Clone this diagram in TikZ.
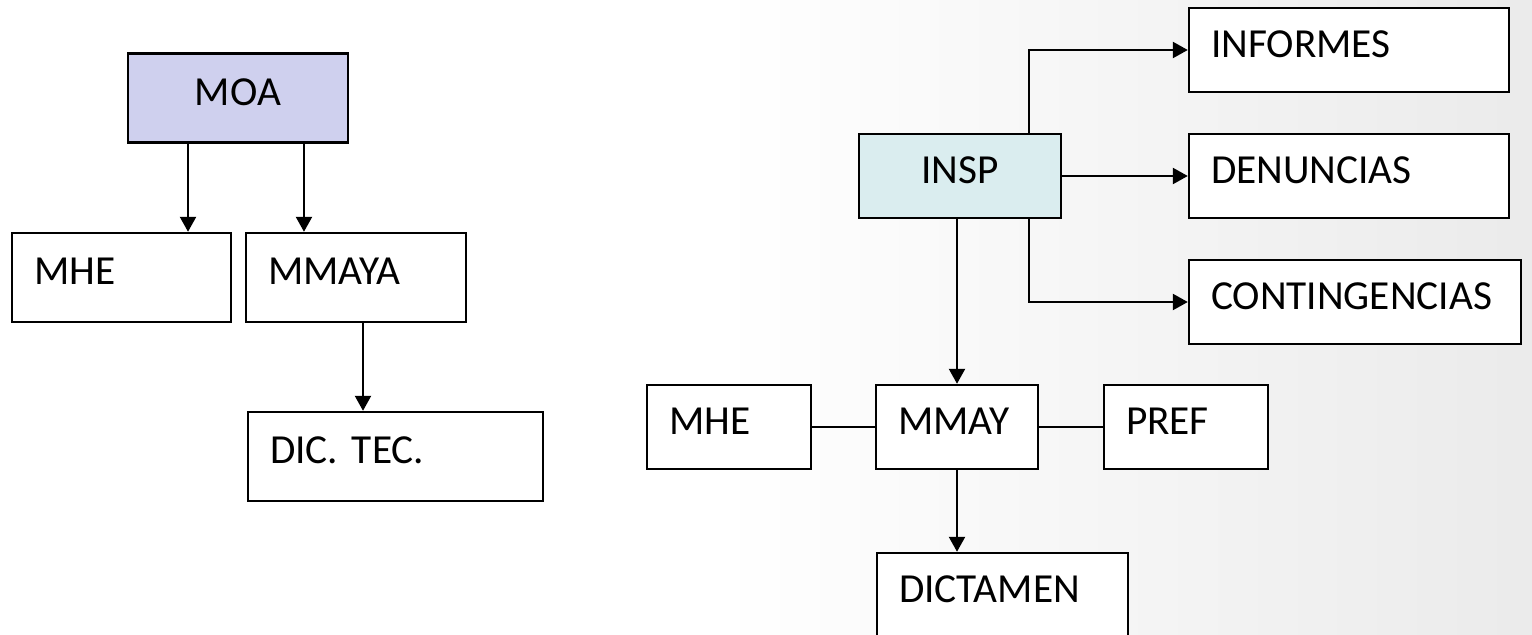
\documentclass[tikz,border=0pt]{standalone}
\usepackage{fontspec}
\setmainfont{Carlito}
\usetikzlibrary{arrows.meta}
\definecolor{moafill}{RGB}{207,208,238}
\definecolor{inspfill}{RGB}{218,237,239}
\tikzset{
box/.style={draw,line width=1.4pt,fill=white,inner xsep=0.44cm,inner ysep=0pt,text depth=0.24cm,align=left,font=\fontsize{23.5}{27}\selectfont},
tall/.style={minimum height=1.78cm},
short/.style={minimum height=1.68cm},
arr/.style={-{Triangle[length=0.3cm,width=0.32cm]},line width=1.3pt},
lnk/.style={line width=1.3pt}
}
\begin{document}
\frenchspacing
\begin{tikzpicture}[x=0.02cm,y=-0.02cm]
\useasboundingbox(0,0)rectangle(1532,635);
\shade[left color=white,right color=black!8](720,0)rectangle(1532,635);
\node[box,tall,fill=moafill,align=center,text width=3.52cm](moa)at(238,98){MOA};
\node[box,tall,text width=3.5cm](mhea)at(121.5,277.5){MHE};
\node[box,tall,text width=3.52cm](mmaya)at(356,277.5){MMAYA};
\node[box,tall,text width=5.02cm](dic)at(395.5,456.5){DIC. TEC.};
\draw[arr]([xshift=-1cm]moa.south)--([xshift=-1cm]moa.south|-mhea.north);
\draw[arr]([xshift=1.32cm]moa.south)--([xshift=1.32cm]moa.south|-mmaya.north);
\draw[arr]([xshift=0.14cm]mmaya.south)--([xshift=0.14cm]mmaya.south|-dic.north);
\node[box,short,fill=inspfill,align=center,text width=3.16cm](insp)at(960,176){INSP};
\node[box,short,text width=5.52cm](informes)at(1349,50){INFORMES};
\node[box,short,text width=5.52cm](denuncias)at(1349,176){DENUNCIAS};
\node[box,short,text width=5.76cm](conting)at(1355,302){CONTINGENCIAS};
\node[box,short,text width=2.4cm](mheb)at(729,427){MHE};
\node[box,short,text width=2.36cm](mmay)at(957,427){MMAY};
\node[box,short,text width=2.4cm](pref)at(1186,427){PREF};
\node[box,short,text width=4.14cm](dictamen)at(1002.5,595){DICTAMEN};
\draw[arr]([xshift=1.38cm]insp.north)|-(informes.west);
\draw[arr](insp.east)--(denuncias.west);
\draw[arr]([xshift=1.38cm]insp.south)|-(conting.west);
\draw[arr](insp.south-|mmay.north)--(mmay.north);
\draw[lnk](mheb.east)--(mmay.west);
\draw[lnk](mmay.east)--(pref.west);
\draw[arr](mmay.south)--(mmay.south|-dictamen.north);
\end{tikzpicture}
\end{document}
